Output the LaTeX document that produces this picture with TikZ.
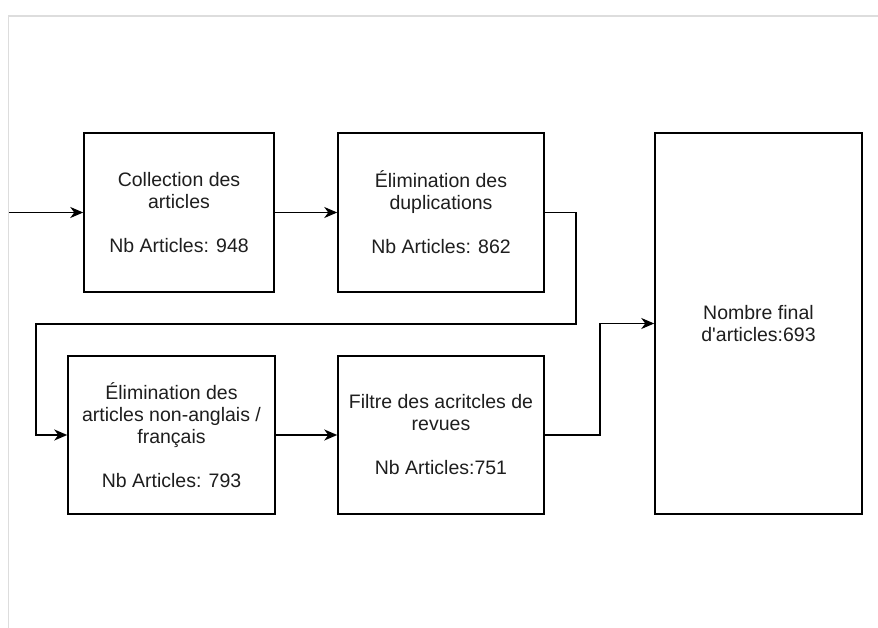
\documentclass[tikz,border=0pt]{standalone}
\usepackage{fontspec}
\setmainfont{Liberation Sans}
\usetikzlibrary{arrows.meta}
\definecolor{txt}{HTML}{1E1E1E}
\definecolor{frame}{HTML}{DDDDDD}
\tikzset{
  box/.style={draw=black, line width=1.5pt, fill=white, inner sep=0pt, align=center,
    text=txt, font=\fontsize{19.5}{22}\selectfont},
  arr/.style={draw=black, line width=1.5pt, -{Stealth[length=13pt,width=11pt,inset=4pt]}},
  border/.style={draw=frame, line width=1.6pt}
}
\begin{document}
\begin{tikzpicture}[x=1pt,y=-1pt]
\useasboundingbox (0,0) rectangle (878,628);
\fill[white] (0,0) rectangle (878,628);
\draw[border] (878,16) -- (8.5,16) -- (8.5,628);

\node[box, minimum width=190pt, minimum height=159pt] (b1) at (179,212.5)
  {Collection des\\articles\\[22pt]Nb Articles: 948};
\node[box, minimum width=206pt, minimum height=159pt] (b2) at (441,212.5)
  {Élimination des\\duplications\\[22pt]Nb Articles: 862};
\node[box, minimum width=207pt, minimum height=158pt] (b3) at (171.5,435)
  {Élimination des\\articles non-anglais /\\français\\[22pt]Nb Articles: 793};
\node[box, minimum width=206pt, minimum height=158pt] (b4) at (441,435)
  {Filtre des acritcles de\\revues\\[22pt]Nb Articles:751};
\node[box, minimum width=207pt, minimum height=381pt] (b5) at (758.5,323.5)
  {Nombre final\\d\textquotesingle articles:693};

\coordinate (in) at (9,212.5);
\coordinate (c1) at (576,324);
\coordinate (c2) at (36,435);
\coordinate (c3) at (600,323.5);

\draw[arr] (in) -- (b1.west);
\draw[arr] (b1.east) -- (b2.west);
\draw[arr] (b2.east) -| (c1) -| (c2) -- (b3.west);
\draw[arr] (b3.east) -- (b4.west);
\draw[arr] (b4.east) -| (c3) -- (b5.west);
\end{tikzpicture}
\end{document}
